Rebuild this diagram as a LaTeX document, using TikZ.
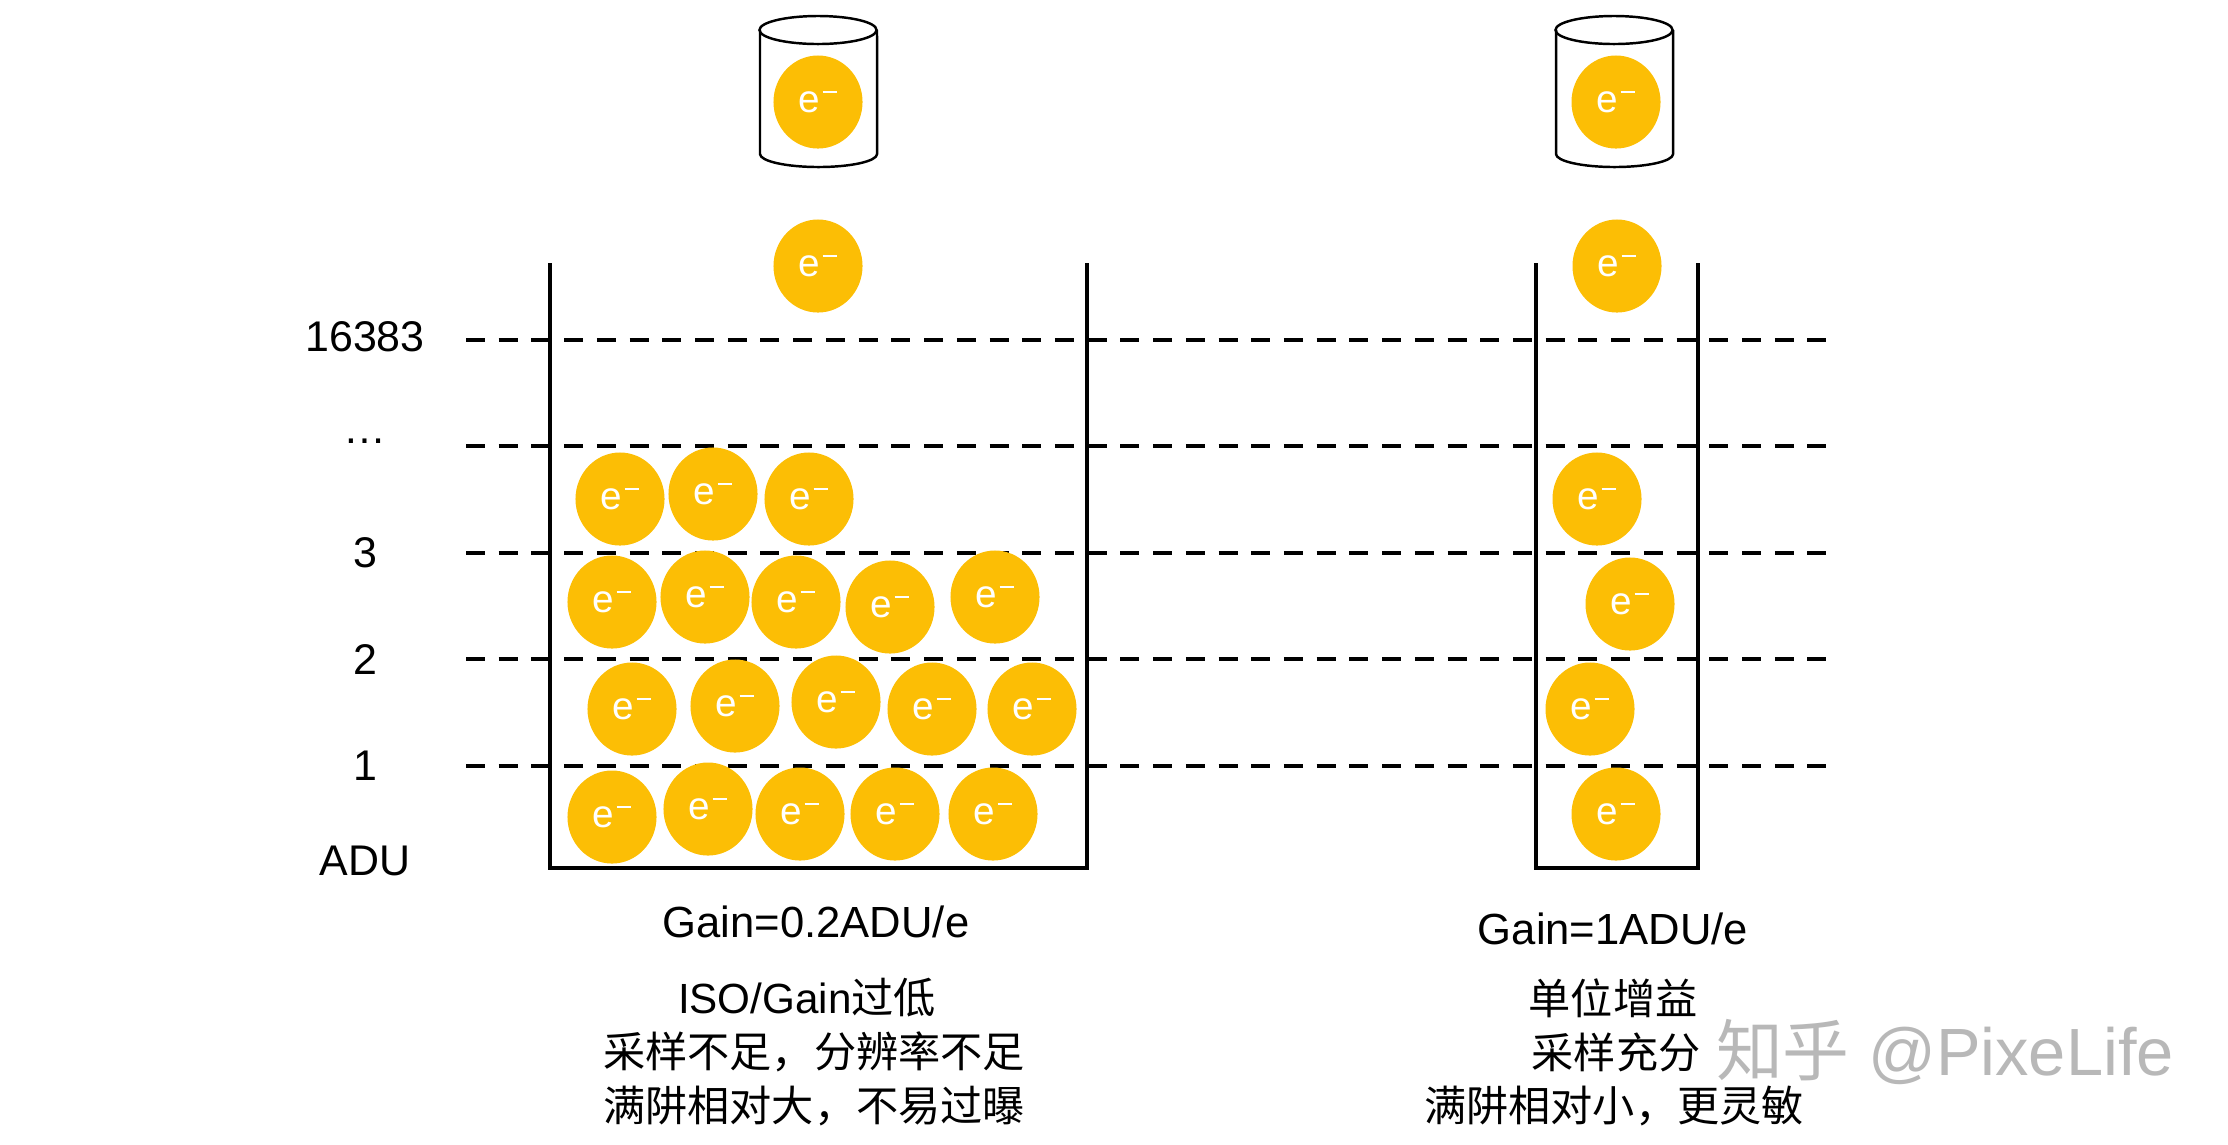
\documentclass[tikz,border=0pt]{standalone}
\usepackage{fontspec}
\setmainfont{Liberation Sans}
\newfontfamily\cjk{Noto Sans CJK SC}
\usetikzlibrary{shapes.geometric}
\definecolor{eyellow}{RGB}{252,190,5}
\newcommand{\elec}{e\kern0.06em\raisebox{0.5em}{\rule{0.38em}{0.055em}}}
\tikzset{
  electron/.style={ellipse, fill=eyellow, minimum width=0.89cm, minimum height=0.93cm,
    inner sep=0pt, text=white, font=\fontsize{11}{13}\selectfont},
  levelline/.style={dash pattern=on 0.19cm off 0.137cm, line width=1.4pt},
  wall/.style={line width=0.95pt},
  can/.style={line width=0.7pt},
  adulabel/.style={font=\fontsize{12.2}{14}\selectfont},
  gainlabel/.style={font=\fontsize{12.4}{15}\selectfont},
  notelabel/.style={font=\fontsize{12}{15}\selectfont\cjk}
}
\begin{document}
\begin{tikzpicture}[x=0.01cm, y=-0.01cm]
\useasboundingbox (0,0) rectangle (2228,1144);

% Drawing level lines and their labels
\foreach \y/\n/\t/\ty in {340/a/16383/337, 446/b/…/441, 553/c/3/553, 659/d/2/659, 766/e/1/766} {
  \node[adulabel] (lab\n) at (365,\ty) {\t};
  \coordinate (ls\n) at (466,\y);
  \coordinate (le\n) at (1826,\y);
  \draw[levelline] (ls\n) -- (le\n);
}
\node[adulabel] (labadu) at (365,861) {ADU};

% Drawing container left
\draw[wall] (550,263) -- (550,868) -- (1087,868) -- (1087,263);

% Drawing container right
\draw[wall] (1536,263) -- (1536,868) -- (1698,868) -- (1698,263);

% Drawing cylinder left
\draw[can] (818,30) ellipse (0.585cm and 0.14cm);
\draw[can] (760,30) -- (760,154) arc[start angle=180, end angle=360, x radius=0.585cm, y radius=0.13cm] -- (877,30);

% Drawing cylinder right
\draw[can] (1614,30) ellipse (0.585cm and 0.14cm);
\draw[can] (1556,30) -- (1556,154) arc[start angle=180, end angle=360, x radius=0.585cm, y radius=0.13cm] -- (1673,30);

% Marking electrons, left
\node[electron] (eLc) at (818,102) {\elec};
\node[electron] (eLf) at (818,266) {\elec};
\foreach \x/\y [count=\i] in {620/499, 713/494, 809/499,
  612/602, 705/597, 796/602, 890/607, 995/597,
  632/709, 735/706, 836/702, 932/709, 1032/709,
  612/817, 708/809, 800/814, 895/814, 993/814}
  \node[electron] (eL\i) at (\x,\y) {\elec};

% Marking electrons, right
\node[electron] (eRc) at (1616,102) {\elec};
\node[electron] (eRf) at (1617,266) {\elec};
\foreach \x/\y [count=\i] in {1597/499, 1630/604, 1590/709, 1616/814}
  \node[electron] (eR\i) at (\x,\y) {\elec};

% Texts below, left
\node[gainlabel] (gainL) at (816,922) {Gain=0.2ADU/e};
\node[notelabel] (noteLa) at (807,998) {\fontspec{Liberation Sans}ISO/Gain\cjk 过低};
\node[notelabel] (noteLb) at (814,1052) {采样不足，分辨率不足};
\node[notelabel] (noteLc) at (814,1106) {满阱相对大，不易过曝};

% Texts below, right
\node[gainlabel] (gainR) at (1613,929) {Gain=1ADU/e};
\node[notelabel] (noteRa) at (1613,998) {单位增益};
\node[notelabel] (noteRb) at (1616,1052) {采样充分};
\node[notelabel] (noteRc) at (1614,1106) {满阱相对小，更灵敏};

% Watermark
\node[text=black!28, font=\fontsize{19}{22}\selectfont] (mark) at (1945,1052) {{\cjk 知乎} @PixeLife};
\end{tikzpicture}
\end{document}
